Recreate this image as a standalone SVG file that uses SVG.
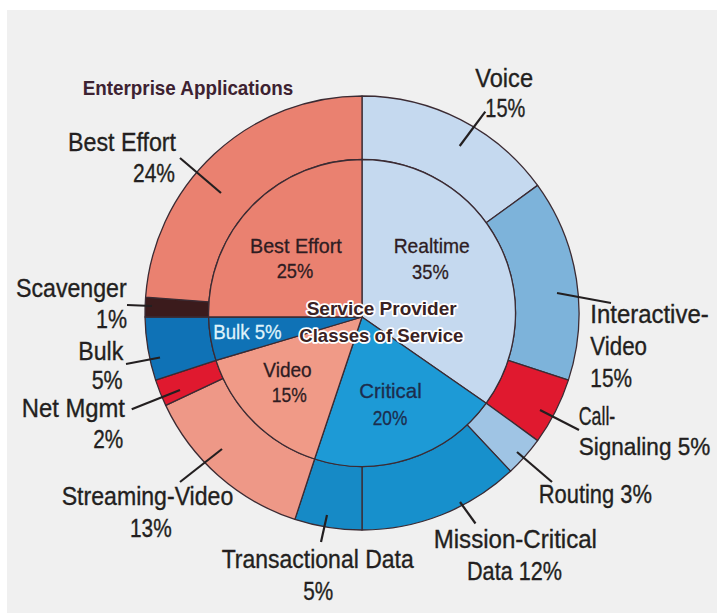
<svg xmlns="http://www.w3.org/2000/svg" width="717" height="614" viewBox="0 0 717 614">
<style>
.seg{stroke:#3b2b33;stroke-width:1.3;stroke-linejoin:round}
.lbl{font-family:"Liberation Sans Narrow","Liberation Sans",Arial,sans-serif;font-size:26px;fill:#231f20;stroke:#231f20;stroke-width:0.35}
.in{font-family:"Liberation Sans Narrow","Liberation Sans",Arial,sans-serif;font-size:21px;fill:#2e1c22;stroke:#2e1c22;stroke-width:0.3}
.ttl{font-family:"Liberation Sans Narrow","Liberation Sans",Arial,sans-serif;font-size:21px;font-weight:bold;fill:#3d2231}
.sp{font-family:"Liberation Sans Narrow","Liberation Sans",Arial,sans-serif;font-size:19px;font-weight:bold;fill:#3a2224;stroke:#ffffff;stroke-width:3.5;paint-order:stroke;stroke-linejoin:round}
.lead{stroke:#231f20;stroke-width:2.2;fill:none}
</style>
<rect x="0" y="0" width="717" height="614" fill="#ffffff"/>
<rect x="7" y="10" width="710" height="603" fill="#f0f0f0"/>
<text class="ttl" x="82.7" y="95" textLength="210.6" lengthAdjust="spacingAndGlyphs">Enterprise Applications</text>

<g id="outer-ring">
<path id="voice" class="seg" fill="#c5d9ef" d="M362,96 A217,217 0 0 1 537.6,185.4 L486.2,222.8 A153.5,153.5 0 0 0 362,159.5 Z"/>
<path id="interactive-video" class="seg" fill="#7db3da" d="M537.6,185.4 A217,217 0 0 1 568.4,380.1 L508,360.4 A153.5,153.5 0 0 0 486.2,222.8 Z"/>
<path id="call-signaling" class="seg" fill="#e0192f" d="M568.4,380.1 A217,217 0 0 1 537.6,440.6 L486.2,403.2 A153.5,153.5 0 0 0 508,360.4 Z"/>
<path id="routing" class="seg" fill="#9fc4e4" d="M537.6,440.6 A217,217 0 0 1 510.5,471.2 L467.1,424.9 A153.5,153.5 0 0 0 486.2,403.2 Z"/>
<path id="mission-critical" class="seg" fill="#1790cc" d="M510.5,471.2 A217,217 0 0 1 362,530 L362,466.5 A153.5,153.5 0 0 0 467.1,424.9 Z"/>
<path id="transactional" class="seg" fill="#168ac6" d="M362,530 A217,217 0 0 1 294.9,519.4 L314.6,459 A153.5,153.5 0 0 0 362,466.5 Z"/>
<path id="streaming-video" class="seg" fill="#ee9887" d="M294.9,519.4 A217,217 0 0 1 165.7,405.4 L223.1,378.4 A153.5,153.5 0 0 0 314.6,459 Z"/>
<path id="net-mgmt" class="seg" fill="#e0192f" d="M165.7,405.4 A217,217 0 0 1 155.6,380.1 L216,360.4 A153.5,153.5 0 0 0 223.1,378.4 Z"/>
<path id="bulk-outer" class="seg" fill="#0f72b6" d="M155.6,380.1 A217,217 0 0 1 145,317 L208.6,317 A153.5,153.5 0 0 0 216,360.4 Z"/>
<path id="scavenger" class="seg" fill="#3b1b1c" d="M145,317 A217,217 0 0 1 145.6,297.1 L208.9,301.8 A153.5,153.5 0 0 0 208.6,317 Z"/>
<path id="best-effort-outer" class="seg" fill="#ea8170" d="M145.6,297.1 A217,217 0 0 1 362,96 L362,159.5 A153.5,153.5 0 0 0 208.9,301.8 Z"/>
</g>

<g id="inner-pie">
<path id="realtime" class="seg" fill="#c5d9ef" d="M362,317 L362,159.5 A153.5,153.5 0 0 1 486.2,403.2 Z"/>
<path id="critical" class="seg" fill="#1d9ad6" d="M362,317 L486.2,403.2 A153.5,153.5 0 0 1 314.6,459 Z"/>
<path id="video-inner" class="seg" fill="#f09a87" d="M362,317 L314.6,459 A153.5,153.5 0 0 1 216,360.4 Z"/>
<path id="bulk-inner" class="seg" fill="#0f72b6" d="M362,317 L216,360.4 A153.5,153.5 0 0 1 208.6,317 Z"/>
<path id="best-effort-inner" class="seg" fill="#ea8170" d="M362,317 L208.6,317 A153.5,153.5 0 0 1 362,159.5 Z"/>
</g>

<g id="connectors">
<line class="lead" x1="180" y1="158" x2="221" y2="193"/>
<line class="lead" x1="127" y1="305" x2="152" y2="306"/>
<line class="lead" x1="126" y1="364" x2="160" y2="357.5"/>
<line class="lead" x1="131.7" y1="409.3" x2="180" y2="390"/>
<line class="lead" x1="180" y1="482" x2="222" y2="449"/>
<line class="lead" x1="321" y1="542" x2="327" y2="515"/>
<line class="lead" x1="460" y1="502" x2="475.5" y2="523.5"/>
<line class="lead" x1="517" y1="452" x2="552" y2="482"/>
<line class="lead" x1="540" y1="410" x2="579" y2="430"/>
<line class="lead" x1="557" y1="293" x2="611" y2="303"/>
<line class="lead" x1="459.7" y1="146" x2="485.3" y2="111.7"/>
</g>

<g id="outer-labels">
<g id="lbl-best-effort"><text class="lbl" x="68" y="151" textLength="108" lengthAdjust="spacingAndGlyphs">Best Effort</text><text class="lbl" x="133" y="182" textLength="42" lengthAdjust="spacingAndGlyphs">24%</text></g>
<g id="lbl-scavenger"><text class="lbl" x="16" y="297" textLength="110.7" lengthAdjust="spacingAndGlyphs">Scavenger</text><text class="lbl" x="96" y="328.3" textLength="31" lengthAdjust="spacingAndGlyphs">1%</text></g>
<g id="lbl-bulk"><text class="lbl" x="78.3" y="360" textLength="45" lengthAdjust="spacingAndGlyphs">Bulk</text><text class="lbl" x="91.7" y="389" textLength="31" lengthAdjust="spacingAndGlyphs">5%</text></g>
<g id="lbl-net-mgmt"><text class="lbl" x="21.7" y="417" textLength="103.3" lengthAdjust="spacingAndGlyphs">Net Mgmt</text><text class="lbl" x="93.3" y="448.3" textLength="30" lengthAdjust="spacingAndGlyphs">2%</text></g>
<g id="lbl-streaming"><text class="lbl" x="61.7" y="505" textLength="171.6" lengthAdjust="spacingAndGlyphs">Streaming-Video</text><text class="lbl" x="130" y="536.7" textLength="41.7" lengthAdjust="spacingAndGlyphs">13%</text></g>
<g id="lbl-transactional"><text class="lbl" x="221.7" y="568.3" textLength="192" lengthAdjust="spacingAndGlyphs">Transactional Data</text><text class="lbl" x="303.3" y="600" textLength="30" lengthAdjust="spacingAndGlyphs">5%</text></g>
<g id="lbl-mission"><text class="lbl" x="433.7" y="548.3" textLength="163.3" lengthAdjust="spacingAndGlyphs">Mission-Critical</text><text class="lbl" x="467" y="580" textLength="95" lengthAdjust="spacingAndGlyphs">Data 12%</text></g>
<g id="lbl-routing"><text class="lbl" x="538.7" y="502.7" textLength="113.3" lengthAdjust="spacingAndGlyphs">Routing 3%</text></g>
<g id="lbl-call"><text class="lbl" x="578.7" y="425" textLength="36.6" lengthAdjust="spacingAndGlyphs">Call-</text><text class="lbl" x="578.7" y="455" textLength="131.6" lengthAdjust="spacingAndGlyphs" style="font-size:23.5px">Signaling 5%</text></g>
<g id="lbl-interactive"><text class="lbl" x="590.3" y="323.3" textLength="118.4" lengthAdjust="spacingAndGlyphs" style="font-size:25px">Interactive-</text><text class="lbl" x="590.3" y="355" textLength="56.7" lengthAdjust="spacingAndGlyphs">Video</text><text class="lbl" x="590.3" y="387.3" textLength="41.7" lengthAdjust="spacingAndGlyphs">15%</text></g>
<g id="lbl-voice"><text class="lbl" x="475.3" y="86.7" textLength="57.7" lengthAdjust="spacingAndGlyphs">Voice</text><text class="lbl" x="485.3" y="117.3" textLength="40" lengthAdjust="spacingAndGlyphs">15%</text></g>
</g>

<g id="inner-labels">
<g id="ilbl-best-effort"><text class="in" x="250" y="253.3" textLength="91.7" lengthAdjust="spacingAndGlyphs">Best Effort</text><text class="in" x="276.7" y="278.3" textLength="36.6" lengthAdjust="spacingAndGlyphs">25%</text></g>
<g id="ilbl-realtime"><text class="in" x="393.7" y="253.3" textLength="76" lengthAdjust="spacingAndGlyphs">Realtime</text><text class="in" x="412" y="279.3" textLength="36.7" lengthAdjust="spacingAndGlyphs">35%</text></g>
<g id="ilbl-bulk"><text class="in" x="213.3" y="339" textLength="68.4" lengthAdjust="spacingAndGlyphs" style="fill:#dff3fb;stroke:#dff3fb">Bulk 5%</text></g>
<g id="ilbl-video"><text class="in" x="263.3" y="376.7" textLength="48.4" lengthAdjust="spacingAndGlyphs">Video</text><text class="in" x="271.7" y="401.7" textLength="35" lengthAdjust="spacingAndGlyphs">15%</text></g>
<g id="ilbl-critical"><text class="in" x="359.3" y="398.3" textLength="62.4" lengthAdjust="spacingAndGlyphs" style="fill:#1c2d4d;stroke:#1c2d4d">Critical</text><text class="in" x="372.7" y="425" textLength="34.6" lengthAdjust="spacingAndGlyphs" style="fill:#1c2d4d;stroke:#1c2d4d">20%</text></g>
<g id="center-title"><text class="sp" x="306.7" y="315" textLength="150" lengthAdjust="spacingAndGlyphs">Service Provider</text><text class="sp" x="299.3" y="341.7" textLength="164" lengthAdjust="spacingAndGlyphs">Classes of Service</text></g>
</g>
</svg>
